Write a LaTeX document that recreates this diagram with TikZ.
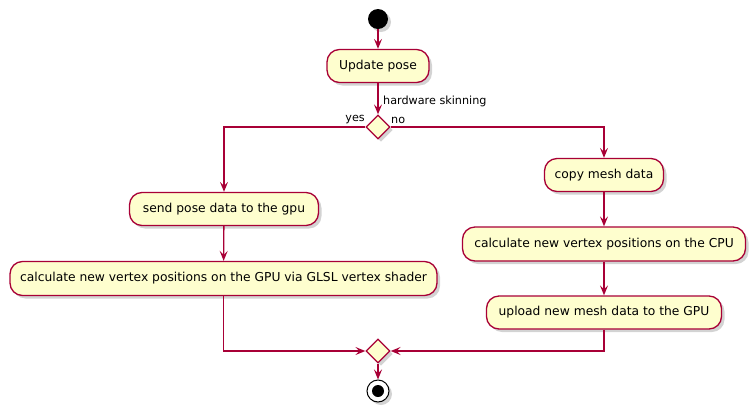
\documentclass[tikz,border=0pt]{standalone}
\usepackage{fontspec}
\setmainfont{DejaVu Sans}
\usetikzlibrary{arrows.meta,shadows,shapes.geometric}
\definecolor{pfill}{HTML}{FEFECE}
\definecolor{pline}{HTML}{A80036}
\begin{document}
\begin{tikzpicture}[x=1pt,y=-1pt,
  shad/.style={drop shadow={shadow xshift=3pt,shadow yshift=-3pt,opacity=0.35,fill=gray}},
  act/.style={draw=pline,fill=pfill,line width=1.3pt,rounded corners=12.5pt,
    font=\fontsize{12.3}{14}\selectfont,inner sep=0pt,minimum height=33pt,shad},
  dec/.style={diamond,draw=pline,fill=pfill,line width=1.3pt,inner sep=0pt,
    minimum width=24pt,minimum height=24pt,shad},
  lbl/.style={font=\fontsize{11.2}{13}\selectfont,inner sep=0pt},
  arr/.style={draw=pline,line width=1.3pt,-{Stealth[length=10pt,width=8pt,inset=4pt]}},
  ]
\useasboundingbox (0,0) rectangle (756,413);
\node[circle,fill=black,minimum size=20pt,inner sep=0pt,shad] (start) at (378,19) {};
\node[act,minimum width=102pt] (up) at (378,66) {Update pose};
\node[dec] (d1) at (378,127) {};
\node[lbl,anchor=west] (hw) at (383,101) {hardware skinning};
\node[lbl,anchor=east] (yes) at (365,120) {yes};
\node[lbl,anchor=west] (no) at (391,120) {no};
\node[act,minimum width=189pt] (send) at (224,209) {send pose data to the gpu};
\node[act,minimum width=427pt,minimum height=34pt] (calcg) at (223.5,278.5) {calculate new vertex positions on the GPU via GLSL vertex shader};
\node[act,minimum width=119pt] (copy) at (604,175) {copy mesh data};
\node[act,minimum width=283pt,minimum height=34pt] (calcc) at (604,244) {calculate new vertex positions on the CPU};
\node[act,minimum width=235pt] (upl) at (604,312.5) {upload new mesh data to the GPU};
\node[dec] (d2) at (378,351) {};
\node[circle,draw=black,line width=1pt,fill=white,minimum size=22pt,inner sep=0pt,shad] (end) at (378,391) {};
\node[circle,fill=black,minimum size=12pt,inner sep=0pt] (endin) at (378,391) {};
\draw[arr] (start) -- (up);
\draw[arr] (up) -- (d1);
\draw[arr] (d1.west) -| (send.north);
\draw[arr] (d1.east) -| (copy.north);
\draw[arr] (send) -- (calcg);
\draw[arr] (copy) -- (calcc);
\draw[arr] (calcc) -- (upl);
\draw[arr] (calcg.south) |- (d2.west);
\draw[arr] (upl.south) |- (d2.east);
\draw[arr] (d2) -- (end);
\end{tikzpicture}
\end{document}
